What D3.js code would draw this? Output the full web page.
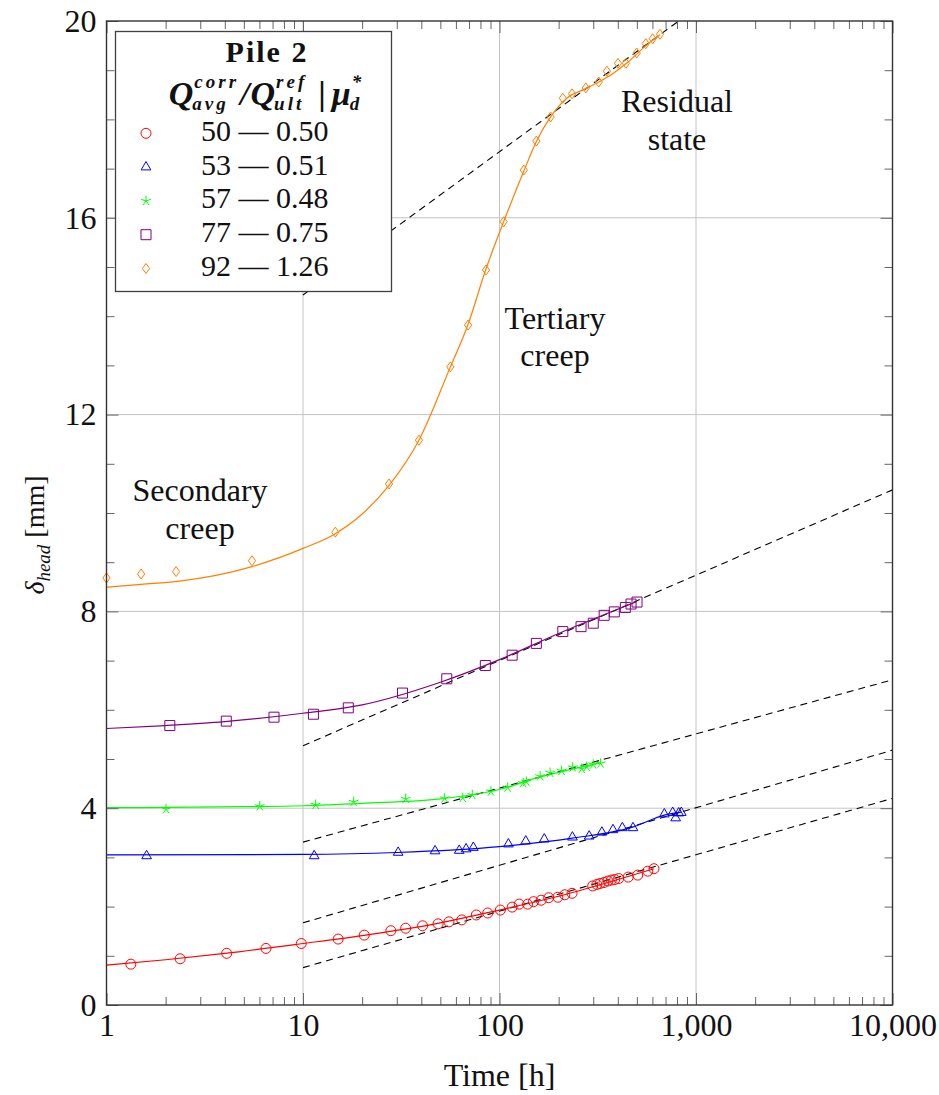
<!DOCTYPE html>
<html>
<head>
<meta charset="utf-8">
<script src="https://cdn.jsdelivr.net/npm/d3@7"></script>
<style>
  body { margin: 0; background: #fff; }
  text { font-family: "Liberation Serif", "Times New Roman", serif; fill: #111; }
</style>
</head>
<body>
<script>
const w = 939;
const h = 1095;
const plotLeft = 106.5, plotRight = 892.5, plotTop = 21, plotBottom = 1005;

const timeTicks = [1, 10, 100, 1000, 10000];
const headTicks = [0, 4, 8, 12, 16, 20];

// measured head settlement [time h, delta mm]
const pile50 = [[1.33,0.83],[2.37,0.94],[4.09,1.05],[6.48,1.15],[9.8,1.25],[15.1,1.34],[20.5,1.42],[28.0,1.51],[33.3,1.56],[40.6,1.61],[48.7,1.65],[55.3,1.69],[64.3,1.73],[76.2,1.83],[87.1,1.87],[101,1.93],[116,1.99],[126,2.05],[139,2.05],[149,2.10],[163,2.13],[178,2.18],[198,2.19],[215,2.24],[234,2.27],[298,2.42],[313,2.45],[325,2.47],[340,2.49],[356,2.52],[371,2.54],[386,2.55],[404,2.57],[452,2.60],[505,2.64],[568,2.72],[611,2.77]];
const pile53 = [[1.60,3.03],[11.4,3.03],[30.5,3.10],[47.0,3.13],[62.4,3.14],[67.6,3.17],[73.6,3.20],[111,3.27],[136,3.33],[169,3.37],[235,3.41],[286,3.43],[332,3.51],[378,3.56],[422,3.60],[478,3.60],[690,3.88],[761,3.91],[788,3.80],[817,3.90],[842,3.91]];
const pile57 = [[2.01,3.98],[6.02,4.04],[11.6,4.07],[18.1,4.13],[33.3,4.19],[52.6,4.20],[65.0,4.21],[72.7,4.27],[90.5,4.34],[110,4.42],[132,4.51],[137,4.54],[161,4.65],[181,4.72],[207,4.76],[236,4.83],[262,4.80],[278,4.84],[300,4.89],[327,4.91]];
const pile77 = [[2.10,5.68],[4.07,5.77],[7.12,5.85],[11.3,5.91],[17.0,6.04],[32.1,6.34],[53.9,6.63],[84.7,6.90],[116,7.11],[154,7.35],[210,7.59],[260,7.69],[300,7.76],[341,7.92],[384,7.99],[437,8.08],[467,8.15],[501,8.19]];
const pile92 = [[1.00,8.68],[1.50,8.76],[2.26,8.81],[5.50,9.03],[14.6,9.61],[27.4,10.59],[38.9,11.48],[56.2,12.97],[69.2,13.82],[85.4,14.94],[105,15.92],[133,16.97],[154,17.56],[182,18.05],[210,18.43],[234,18.52],[275,18.64],[320,18.76],[352,18.98],[401,19.14],[440,19.14],[499,19.35],[555,19.54],[602,19.64],[656,19.73]];

// fitted curves
const fit50 = [[1,0.81],[2,0.92],[4,1.05],[10,1.25],[20,1.41],[50,1.67],[100,1.93],[200,2.21],[400,2.55],[611,2.77]];
const fit53 = [[1,3.05],[10,3.06],[30,3.10],[100,3.22],[235,3.39],[480,3.62],[690,3.86],[842,3.92]];
const fit57 = [[1,4.01],[5,4.03],[10,4.05],[20,4.10],[50,4.19],[100,4.38],[150,4.60],[250,4.82],[327,4.92]];
const fit77 = [[1,5.62],[2,5.68],[4,5.76],[10,5.93],[20,6.10],[50,6.56],[100,7.02],[200,7.55],[501,8.20]];
const fit92 = [[1,8.49],[1.5,8.55],[2.3,8.61],[5.5,8.91],[10,9.28],[14.6,9.58],[20,9.98],[27.4,10.56],[38.9,11.48],[56,12.95],[69,13.82],[85,14.94],[105,15.92],[133,16.95],[154,17.55],[182,18.05],[220,18.43],[277,18.63],[380,18.94],[443,19.14],[560,19.51],[656,19.72]];

// log-linear creep asymptotes
const trend50 = [[10,0.76],[10000,4.20]];
const trend53 = [[10,1.67],[10000,5.18]];
const trend57 = [[10,3.31],[10000,6.61]];
const trend77 = [[10,5.27],[10000,10.47]];
const trend92 = [[10,14.43],[10000,23.17]];

const legendLabels = ["50 \u2014 0.50", "53 \u2014 0.51", "57 \u2014 0.48", "77 \u2014 0.75", "92 \u2014 1.26"];

const points = [pile50, pile53, pile57, pile77, pile92];
const fits = [fit50, fit53, fit57, fit77, fit92];
const trends = [trend50, trend53, trend57, trend77, trend92];
const colors = ["#ff0000", "#0000ff", "#00ff00", "#800080", "#ff8000"];
const marks = ["circle", "triangle", "star", "square", "diamond"];

const svg = d3.select("body").append("svg").attr("width", w).attr("height", h);

const xScale = d3.scaleLog().domain([1, 10000]).range([plotLeft, plotRight]);
const yScale = d3.scaleLinear().domain([0, 20]).range([plotBottom, plotTop]);

svg.append("clipPath").attr("id", "plotclip")
  .append("rect").attr("x", plotLeft).attr("y", plotTop)
  .attr("width", plotRight - plotLeft).attr("height", plotBottom - plotTop);

// grid
const grid = svg.append("g").attr("stroke", "#c4c4c4").attr("stroke-width", 1);
grid.selectAll("line.gx").data(timeTicks.slice(1, -1)).enter().append("line")
  .attr("x1", (d) => xScale(d)).attr("x2", (d) => xScale(d))
  .attr("y1", plotTop).attr("y2", plotBottom);
grid.selectAll("line.gy").data(headTicks.slice(1, -1)).enter().append("line")
  .attr("y1", (d) => yScale(d)).attr("y2", (d) => yScale(d))
  .attr("x1", plotLeft).attr("x2", plotRight);

const line = d3.line()
  .x((d) => xScale(d[0]))
  .y((d) => yScale(d[1]));

const plot = svg.append("g").attr("clip-path", "url(#plotclip)");

// dashed asymptotes
plot.selectAll("path.trend").data(trends).enter().append("path")
  .attr("d", line)
  .attr("fill", "none")
  .attr("stroke", "#000")
  .attr("stroke-width", 1.1)
  .attr("stroke-dasharray", "7,5");

// fitted curves
const smooth = d3.line()
  .x((d) => xScale(d[0]))
  .y((d) => yScale(d[1]))
  .curve(d3.curveMonotoneX);
plot.selectAll("path.fit").data(fits).enter().append("path")
  .attr("d", smooth)
  .attr("fill", "none")
  .attr("stroke", (d, i) => colors[i])
  .attr("stroke-width", 1.2);

function markPath(type) {
  switch (type) {
    case "circle":
      return "M5,0A5,5 0 1,1 -5,0A5,5 0 1,1 5,0Z";
    case "triangle":
      return "M0,-5.6L4.85,2.8L-4.85,2.8Z";
    case "square":
      return "M-5,-5H5V5H-5Z";
    case "diamond":
      return "M0,-5L3.6,0L0,5L-3.6,0Z";
    case "star": {
      let p = "";
      for (let k = 0; k < 5; k++) {
        const a = -Math.PI / 2 + k * 2 * Math.PI / 5;
        p += "M0,0L" + (5.2 * Math.cos(a)).toFixed(2) + "," + (5.2 * Math.sin(a)).toFixed(2);
      }
      return p;
    }
  }
}

// markers
points.forEach(function (series, i) {
  svg.append("g").selectAll("path").data(series).enter().append("path")
    .attr("transform", (d) => "translate(" + xScale(d[0]) + "," + yScale(d[1]) + ")")
    .attr("d", markPath(marks[i]))
    .attr("fill", "none")
    .attr("stroke", colors[i])
    .attr("stroke-width", 1);
});

// axes, ticks inside on all four sides
const minorX = [];
[1, 10, 100, 1000].forEach((dec) => { for (let k = 2; k <= 9; k++) minorX.push(dec * k); });
const minorY = d3.range(1, 20).filter((v) => v % 4 !== 0);

function addAxis(axis, transform, showLabels) {
  const g = svg.append("g").attr("transform", transform).call(axis);
  g.select(".domain").remove();
  g.selectAll(".tick line").attr("stroke", "#666").attr("stroke-width", 1);
  if (!showLabels) g.selectAll(".tick text").remove();
  return g;
}

const xAxis = addAxis(d3.axisBottom(xScale).tickValues(timeTicks).tickFormat(d3.format(","))
  .tickSizeInner(-12).tickSizeOuter(0).tickPadding(8), "translate(0," + plotBottom + ")", true);
addAxis(d3.axisBottom(xScale).tickValues(minorX).tickFormat("").tickSizeInner(-8).tickSizeOuter(0),
  "translate(0," + plotBottom + ")", false);
addAxis(d3.axisTop(xScale).tickValues(timeTicks).tickSizeInner(-12).tickSizeOuter(0),
  "translate(0," + plotTop + ")", false);
addAxis(d3.axisTop(xScale).tickValues(minorX).tickSizeInner(-8).tickSizeOuter(0),
  "translate(0," + plotTop + ")", false);
const yAxis = addAxis(d3.axisLeft(yScale).tickValues(headTicks).tickSizeInner(-12).tickSizeOuter(0).tickPadding(10),
  "translate(" + plotLeft + ",0)", true);
addAxis(d3.axisLeft(yScale).tickValues(minorY).tickSizeInner(-8).tickSizeOuter(0),
  "translate(" + plotLeft + ",0)", false);
addAxis(d3.axisRight(yScale).tickValues(headTicks).tickSizeInner(-12).tickSizeOuter(0),
  "translate(" + plotRight + ",0)", false);
addAxis(d3.axisRight(yScale).tickValues(minorY).tickSizeInner(-8).tickSizeOuter(0),
  "translate(" + plotRight + ",0)", false);

xAxis.selectAll(".tick text").attr("font-size", 32).attr("fill", "#111");
yAxis.selectAll(".tick text").attr("font-size", 32).attr("fill", "#111");

svg.append("rect")
  .attr("x", plotLeft).attr("y", plotTop)
  .attr("width", plotRight - plotLeft).attr("height", plotBottom - plotTop)
  .attr("fill", "none").attr("stroke", "#333").attr("stroke-width", 1.4);

// axis labels
svg.append("text")
  .attr("x", (plotLeft + plotRight) / 2).attr("y", 1086)
  .attr("text-anchor", "middle").attr("font-size", 32)
  .text("Time [h]");

const ylab = svg.append("text")
  .attr("transform", "translate(44,535) rotate(-90)")
  .attr("text-anchor", "middle").attr("font-size", 28);
ylab.append("tspan").attr("font-style", "italic").text("\u03b4");
ylab.append("tspan").attr("font-style", "italic").attr("font-size", 19).attr("dy", 6).text("head");
ylab.append("tspan").attr("dy", -6).text(" [mm]");

// annotations
const notes = [["Residual", 677, 112], ["state", 677, 150], ["Tertiary", 555, 329], ["creep", 555, 366],
  ["Secondary", 200, 501], ["creep", 200, 539]];
svg.selectAll("text.note").data(notes).enter().append("text")
  .attr("x", (d) => d[1]).attr("y", (d) => d[2])
  .attr("text-anchor", "middle").attr("font-size", 32)
  .text((d) => d[0]);

// legend
const legend = svg.append("g");
legend.append("rect")
  .attr("x", 115.5).attr("y", 31.5).attr("width", 276).attr("height", 260)
  .attr("fill", "#fff").attr("stroke", "#404040").attr("stroke-width", 1.3);
legend.append("text")
  .attr("x", 267).attr("y", 62).attr("text-anchor", "middle")
  .attr("font-size", 30).attr("font-weight", "bold").attr("letter-spacing", 2)
  .text("Pile 2");

// header: Q^corr_avg / Q^ref_ult | mu*_d, one text with positioned tspans
const head = legend.append("text")
  .attr("font-weight", "bold").attr("font-style", "italic");
let cx = 0;
function span(txt, size, y, x, upright) {
  const t = head.append("tspan").attr("x", x).attr("y", y)
    .attr("font-size", size).text(txt);
  if (size < 30) t.attr("letter-spacing", 3);
  if (upright) t.attr("font-style", "normal");
  return t.node().getComputedTextLength();
}
function scripted(base, sup, sub) {
  const x0 = cx + span(base, 34, 105, cx) + 1;
  const ws = span(sup, 19, 88, x0);
  const wsub = span(sub, 19, 109.5, x0 - 2);
  cx = Math.max(x0 + ws, x0 - 2 + wsub) + 1;
}
scripted("Q", "corr", "avg");
cx += span("/", 34, 105, cx) + 1;
scripted("Q", "ref", "ult");
cx += 10;
cx += span("|", 34, 105, cx, true);
cx += 6;
scripted("\u03bc", "*", "d");
head.attr("transform", "translate(" + (267 - cx / 2) + ",0)");

const rowY = [133.3, 167.1, 200.9, 234.7, 268.5];
legendLabels.forEach(function (label, i) {
  legend.append("path")
    .attr("transform", "translate(146," + rowY[i] + ")")
    .attr("d", markPath(marks[i]))
    .attr("fill", "none").attr("stroke", colors[i]).attr("stroke-width", 1);
  legend.append("text")
    .attr("x", 201).attr("y", rowY[i] + 7.5)
    .attr("font-size", 30)
    .text(label);
});
</script>
</body>
</html>
